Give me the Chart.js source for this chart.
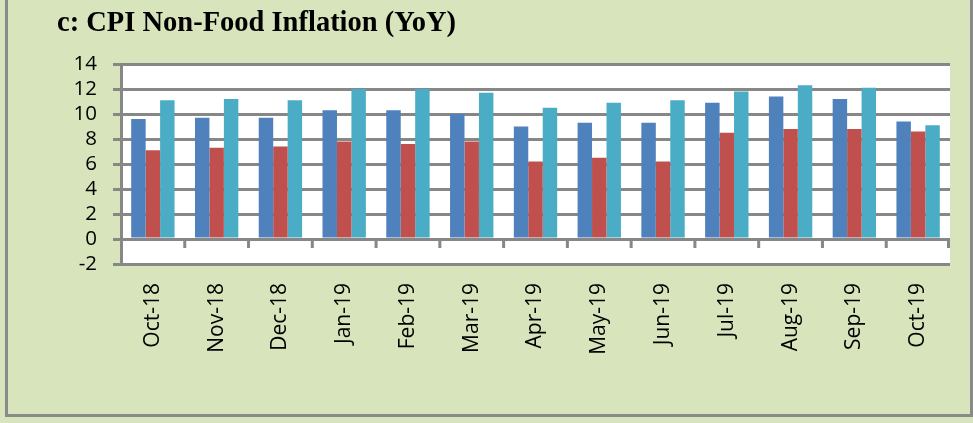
<!DOCTYPE html>
<html>
<head>
<meta charset="utf-8">
<script src="https://cdn.jsdelivr.net/npm/chart.js@4/dist/chart.umd.min.js"></script>
<style>
html,body{margin:0;padding:0;background:#D8E4BC;overflow:hidden;}
#frame{position:absolute;left:5px;top:-3px;width:962px;height:414px;border:3px solid #8A8A8A;}
#wrap{position:absolute;left:0;top:0;width:973px;height:423px;}
</style>
</head>
<body>
<div id="frame"></div>
<div id="wrap"><canvas id="c" width="973" height="423"></canvas></div>
<script>
const titleText = 'c: CPI Non-Food Inflation (YoY)';
const categories = ['Oct-18','Nov-18','Dec-18','Jan-19','Feb-19','Mar-19','Apr-19','May-19','Jun-19','Jul-19','Aug-19','Sep-19','Oct-19'];
const seriesBlue = [9.6, 9.7, 9.7, 10.3, 10.3, 10.0, 9.0, 9.3, 9.3, 10.9, 11.4, 11.2, 9.4];
const seriesRed  = [7.1, 7.3, 7.4, 7.8, 7.6, 7.8, 6.2, 6.5, 6.2, 8.5, 8.8, 8.8, 8.6];
const seriesCyan = [11.1, 11.2, 11.1, 12.0, 12.0, 11.7, 10.5, 10.9, 11.1, 11.8, 12.3, 12.1, 9.1];
const yMin = -2, yMax = 14, yStep = 2;

const GRID = '#878787';

const plotBg = {
  id: 'plotBg',
  beforeDraw(chart) {
    const a = chart.chartArea, ctx = chart.ctx;
    ctx.save();
    ctx.fillStyle = '#FFFFFF';
    ctx.fillRect(a.left, a.top, a.right - a.left, a.bottom - a.top);
    ctx.restore();
  }
};

const zeroTicks = {
  id: 'zeroTicks',
  afterDatasetsDraw(chart) {
    const x = chart.scales.x, y = chart.scales.y, ctx = chart.ctx;
    const y0 = y.getPixelForValue(0);
    const step = x.getPixelForValue(1) - x.getPixelForValue(0);
    ctx.save();
    ctx.strokeStyle = GRID;
    ctx.lineWidth = 3;
    ctx.beginPath();
    for (let i = 0; i < categories.length; i++) {
      let px = x.getPixelForValue(i) + step / 2;
      if (i === categories.length - 1) px -= 1.5;
      ctx.moveTo(px, y0);
      ctx.lineTo(px, y0 + 9);
    }
    ctx.stroke();
    ctx.restore();
  }
};

new Chart(document.getElementById('c'), {
  type: 'bar',
  data: {
    labels: categories,
    datasets: [
      { label: 'Series 1', data: seriesBlue, backgroundColor: '#4F81BD' },
      { label: 'Series 2', data: seriesRed, backgroundColor: '#C0504D' },
      { label: 'Series 3', data: seriesCyan, backgroundColor: '#4BACC6' }
    ]
  },
  options: {
    responsive: false,
    animation: false,
    events: [],
    layout: { padding: { left: 57, right: 23, top: 0, bottom: 59 } },
    datasets: { bar: { categoryPercentage: 0.68, barPercentage: 1.0, borderWidth: 0 } },
    plugins: {
      legend: { display: false },
      tooltip: { enabled: false },
      title: {
        display: true,
        text: titleText,
        align: 'start',
        color: '#000000',
        font: { family: '"Liberation Serif", serif', size: 28.5, weight: 'bold', lineHeight: 1.2 },
        padding: { top: 7, bottom: 22.8 }
      }
    },
    scales: {
      x: {
        grid: { display: false, drawTicks: false },
        border: { display: false },
        ticks: {
          color: '#000000',
          font: { family: '"Open Sans", sans-serif', size: 21 },
          maxRotation: 90, minRotation: 90,
          padding: 19,
          autoSkip: false
        },
        afterFit(scale) { scale.height = 100; }
      },
      y: {
        min: yMin, max: yMax,
        grid: { color: GRID, lineWidth: 3, drawTicks: true, tickLength: 8, tickColor: GRID },
        border: { display: true, color: GRID, width: 3 },
        ticks: {
          stepSize: yStep,
          autoSkip: false,
          color: '#000000',
          font: { family: '"Open Sans", sans-serif', size: 20.5, lineHeight: 1.0 },
          padding: 16
        },
        afterFit(scale) { scale.width = 64; }
      }
    }
  },
  plugins: [plotBg, zeroTicks]
});
</script>
</body>
</html>
